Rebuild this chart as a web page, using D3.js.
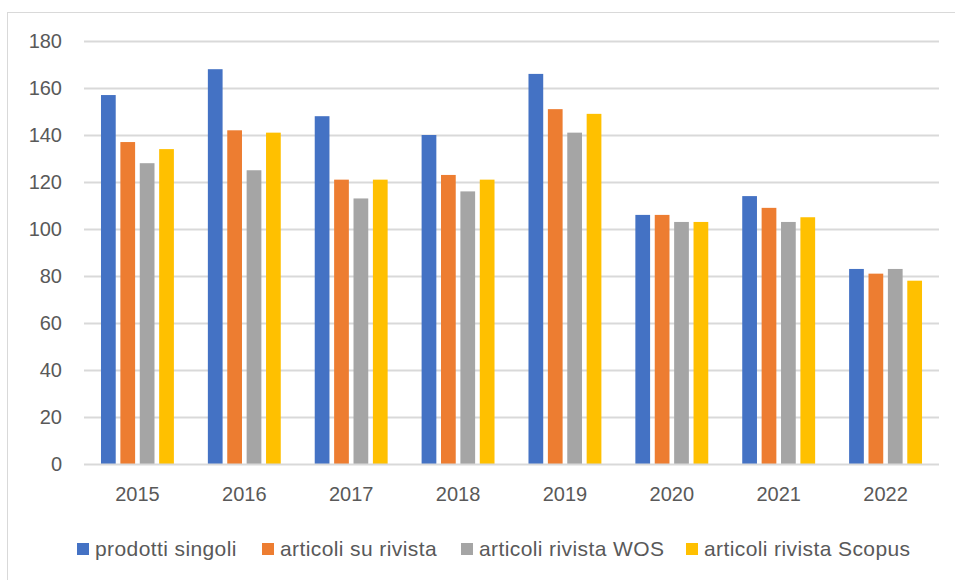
<!DOCTYPE html>
<html>
<head>
<meta charset="utf-8">
<script src="https://cdn.jsdelivr.net/npm/d3@7"></script>
<style>
  html, body { margin: 0; padding: 0; background: #fff; }
  svg { display: block; font-family: "Liberation Sans", Arial, sans-serif; }
</style>
</head>
<body>
<svg id="chart" width="955" height="580"></svg>
<script>
// data
const years = ['2015', '2016', '2017', '2018', '2019', '2020', '2021', '2022'];
const seriesNames = ['prodotti singoli', 'articoli su rivista', 'articoli rivista WOS', 'articoli rivista Scopus'];
const prodottiSingoli = [157, 168, 148, 140, 166, 106, 114, 83];
const articoliRivista = [137, 142, 121, 123, 151, 106, 109, 81];
const articoliWos = [128, 125, 113, 116, 141, 103, 103, 83];
const articoliScopus = [134, 141, 121, 121, 149, 103, 105, 78];
const yTicks = [0, 20, 40, 60, 80, 100, 120, 140, 160, 180];
const colors = ['#4472C4', '#ED7D31', '#A5A5A5', '#FFC000'];

const values = [prodottiSingoli, articoliRivista, articoliWos, articoliScopus];

let width = 955;
let height = 580;
let plotMargins = { top: 41, bottom: 116, left: 84, right: 16 };
let plotWidth = width - plotMargins.left - plotMargins.right;
let plotHeight = height - plotMargins.top - plotMargins.bottom;

let svg = d3.select('#chart');

// chart frame
svg.append('rect')
    .attr('x', 7.5)
    .attr('y', 12.5)
    .attr('width', width)
    .attr('height', height)
    .style('fill', '#fff')
    .style('stroke', '#D9D9D9')
    .style('stroke-width', 1);

let plotGroup = svg.append('g')
    .attr('transform', `translate(${plotMargins.left},${plotMargins.top})`);

let xScale = d3.scaleBand()
    .domain(years)
    .range([0, plotWidth])
    .paddingInner(0.3178)
    .paddingOuter(0.1589);

let innerScale = d3.scaleBand()
    .domain(seriesNames)
    .range([0, xScale.bandwidth()])
    .paddingInner(0.24);

let yScale = d3.scaleLinear()
    .domain([0, 180])
    .range([plotHeight, 0]);

// gridlines
plotGroup.append('g')
    .selectAll('line')
    .data(yTicks.filter(t => t > 0))
    .enter()
    .append('line')
    .attr('x1', 0)
    .attr('x2', plotWidth)
    .attr('y1', d => Math.round(yScale(d)) + 0.5)
    .attr('y2', d => Math.round(yScale(d)) + 0.5)
    .style('stroke', '#D9D9D9')
    .style('stroke-width', 2);

// y axis labels
let yAxis = d3.axisLeft(yScale).tickValues(yTicks).tickSize(0).tickPadding(22);
plotGroup.append('g')
    .call(yAxis)
    .call(g => g.select('.domain').remove())
    .selectAll('text')
    .style('font-size', '20px')
    .style('fill', '#595959')
    .style('font-family', '"Liberation Sans", Arial, sans-serif');

// bars
let groups = plotGroup.selectAll('.year')
    .data(years)
    .enter()
    .append('g')
    .classed('year', true)
    .attr('transform', d => `translate(${xScale(d)},0)`);

groups.selectAll('rect')
    .data((d, i) => seriesNames.map((s, j) => ({ series: s, value: values[j][i], color: colors[j] })))
    .enter()
    .append('rect')
    .attr('x', d => innerScale(d.series))
    .attr('y', d => yScale(d.value))
    .attr('width', innerScale.bandwidth())
    .attr('height', d => plotHeight - yScale(d.value))
    .style('fill', d => d.color);

// baseline
plotGroup.append('line')
    .attr('x1', 0)
    .attr('x2', plotWidth)
    .attr('y1', plotHeight + 0.5)
    .attr('y2', plotHeight + 0.5)
    .style('stroke', '#D9D9D9')
    .style('stroke-width', 2);

// x axis labels
let xAxis = d3.axisBottom(d3.scaleBand().domain(years).range([0, plotWidth])).tickSize(0).tickPadding(23);
plotGroup.append('g')
    .attr('transform', `translate(0,${plotHeight})`)
    .call(xAxis)
    .call(g => g.select('.domain').remove())
    .selectAll('text')
    .style('font-size', '20px')
    .style('fill', '#595959')
    .style('font-family', '"Liberation Sans", Arial, sans-serif');

// legend
let legend = svg.append('g')
    .attr('transform', `translate(0,549)`);
let legendX = [77, 262, 461, 686];
let items = legend.selectAll('.item')
    .data(seriesNames)
    .enter()
    .append('g')
    .classed('item', true)
    .attr('transform', (d, i) => `translate(${legendX[i]},0)`);
items.append('rect')
    .attr('x', 0)
    .attr('y', -6)
    .attr('width', 12)
    .attr('height', 12)
    .style('fill', (d, i) => colors[i]);
items.append('text')
    .attr('x', 18)
    .attr('y', 0)
    .attr('dy', '0.35em')
    .style('font-size', '21px')
    .style('letter-spacing', '0.4px')
    .style('fill', '#595959')
    .text(d => d);
</script>
</body>
</html>
